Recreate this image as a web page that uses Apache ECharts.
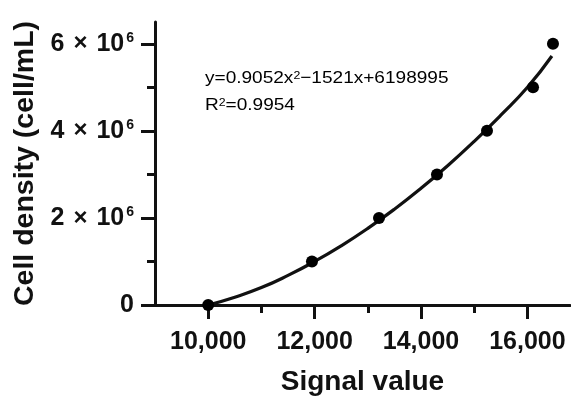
<!DOCTYPE html>
<html>
<head>
<meta charset="utf-8">
<script src="https://cdn.jsdelivr.net/npm/echarts@6/dist/echarts.min.js"></script>
<style>
html,body{margin:0;padding:0;background:#fff;}
#chart{width:571px;height:399px;}
</style>
</head>
<body>
<div id="chart"></div>
<script>
// Measured data points (signal value, cell density)
const signalValues = [10000, 11950, 13210, 14300, 15240, 16105, 16480];
const cellDensity = [0, 1000000, 2000000, 3000000, 4000000, 5000000, 6000000];

// Fitted curve
const fitSignal = [10000, 10500, 11000, 11500, 12000, 12500, 13000, 13500, 14000, 14500, 15000, 15500, 16000, 16460];
const fitDensity = [0, 180000, 400000, 680000, 1000000, 1360000, 1760000, 2200000, 2680000, 3200000, 3760000, 4360000, 5000000, 5720000];

// Tick values
const xMajorTicks = [10000, 12000, 14000, 16000];
const xMinorTicks = [11000, 13000, 15000];
const yMajorTicks = [0, 2000000, 4000000, 6000000];
const yMinorTicks = [1000000, 3000000, 5000000];

const xTitle = 'Signal value';
const yTitle = 'Cell density (cell/mL)';
const equationLine1 = ['y=0.9052x', '2', '−1521x+6198995'];
const equationLine2 = ['R', '2', '=0.9954'];

const FONT = '"Liberation Sans", Arial, Helvetica, sans-serif';
const xMin = 9000, xMax = 16800, yMin = 0, yMax = 6500000;

const chart = echarts.init(document.getElementById('chart'), null, {renderer: 'canvas'});

const axisLineStyle = {color: '#111', width: 3};

const option = {
  animation: false,
  backgroundColor: '#fff',
  grid: {left: 155, top: 22, right: 1, bottom: 94, containLabel: false, outerBoundsMode: 'none'},
  xAxis: [
    {
      type: 'value', min: xMin, max: xMax,
      position: 'bottom',
      name: xTitle, nameLocation: 'middle', nameGap: 63,
      nameTextStyle: {fontFamily: FONT, fontSize: 28, fontWeight: 'bold', color: '#111'},
      axisLine: {show: true, onZero: false, lineStyle: axisLineStyle},
      axisTick: {show: true, length: 14, customValues: xMajorTicks, lineStyle: {color: '#111', width: 3}},
      axisLabel: {show: true, customValues: xMajorTicks, margin: 25,
        fontFamily: FONT, fontSize: 25, fontWeight: 'bold', color: '#111',
        formatter: v => Number(v).toLocaleString('en-US')},
      splitLine: {show: false}
    },
    {
      type: 'value', min: xMin, max: xMax,
      position: 'bottom', offset: 0,
      axisLine: {show: false},
      axisTick: {show: true, length: 8, customValues: xMinorTicks, lineStyle: {color: '#111', width: 3}},
      axisLabel: {show: false},
      splitLine: {show: false}
    }
  ],
  yAxis: [
    {
      type: 'value', min: yMin, max: yMax,
      position: 'left',
      name: yTitle, nameLocation: 'middle', nameGap: 109,
      nameTextStyle: {fontFamily: FONT, fontSize: 28.5, fontWeight: 'bold', color: '#111'},
      axisLine: {show: true, onZero: false, lineStyle: axisLineStyle},
      axisTick: {show: true, length: 14, customValues: yMajorTicks, lineStyle: {color: '#111', width: 3}},
      axisLabel: {show: true, customValues: yMajorTicks, margin: 21,
        fontFamily: FONT, fontSize: 25, fontWeight: 'bold', color: '#111',
        formatter: v => v === 0 ? '{b|0}' : '{b|' + (v / 1000000) + '}{x|×}{b|10}{s|6}',
        rich: {
          b: {fontFamily: FONT, fontSize: 25, fontWeight: 'bold', color: '#111'},
          x: {fontFamily: FONT, fontSize: 24, fontWeight: 'bold', color: '#111', padding: [0, 9, 0, 9]},
          s: {fontFamily: FONT, fontSize: 14, fontWeight: 'bold', color: '#111', verticalAlign: 'top', padding: [0, 0, 0, 2]}
        }},
      splitLine: {show: false}
    },
    {
      type: 'value', min: yMin, max: yMax,
      position: 'left', offset: 0,
      axisLine: {show: false},
      axisTick: {show: true, length: 8, customValues: yMinorTicks, lineStyle: {color: '#111', width: 3}},
      axisLabel: {show: false},
      splitLine: {show: false}
    }
  ],
  graphic: [
    {
      type: 'text', left: 205, top: 70, scaleX: 1.12,
      style: {
        text: '{m|' + equationLine1[0] + '}{s|' + equationLine1[1] + '}{m|' + equationLine1[2] + '}',
        rich: {
          m: {fontFamily: FONT, fontSize: 17, color: '#3a3a3a'},
          s: {fontFamily: FONT, fontSize: 11, color: '#3a3a3a', verticalAlign: 'top'}
        }
      }
    },
    {
      type: 'text', left: 205, top: 97, scaleX: 1.12,
      style: {
        text: '{m|' + equationLine2[0] + '}{s|' + equationLine2[1] + '}{m|' + equationLine2[2] + '}',
        rich: {
          m: {fontFamily: FONT, fontSize: 17, color: '#3a3a3a'},
          s: {fontFamily: FONT, fontSize: 11, color: '#3a3a3a', verticalAlign: 'top'}
        }
      }
    }
  ],
  series: [
    {
      type: 'line', xAxisIndex: 0, yAxisIndex: 0,
      data: fitSignal.map((x, i) => [x, fitDensity[i]]),
      smooth: true, showSymbol: false, clip: false,
      lineStyle: {color: '#111', width: 3.2}, z: 3
    },
    {
      type: 'scatter', xAxisIndex: 0, yAxisIndex: 0,
      data: signalValues.map((x, i) => [x, cellDensity[i]]),
      symbol: 'circle', symbolSize: 12, clip: false,
      itemStyle: {color: '#000', opacity: 1}, z: 4
    }
  ]
};
chart.setOption(option);
</script>
</body>
</html>
